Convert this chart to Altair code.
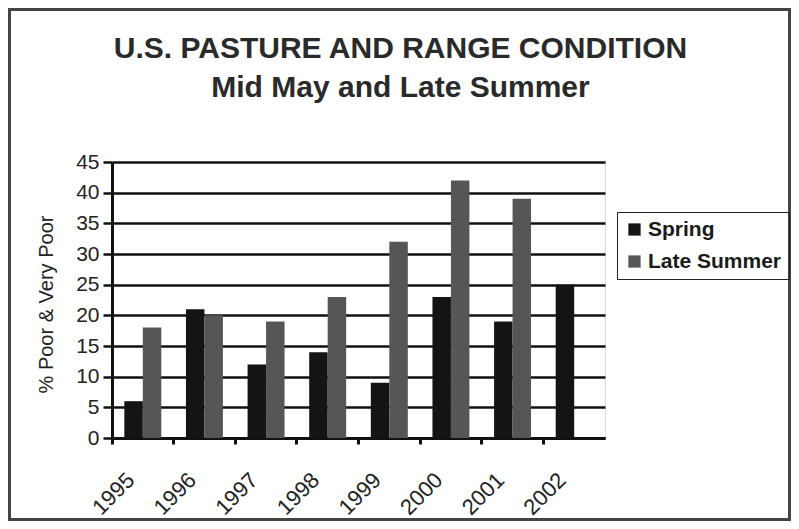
import altair as alt
import pandas as pd

years = ["1995", "1996", "1997", "1998", "1999", "2000", "2001", "2002"]
spring = [6, 21, 12, 14, 9, 23, 19, 25]
late_summer = [18, 20, 19, 23, 32, 42, 39, None]
series_names = ["Spring", "Late Summer"]
series_colors = ["#141414", "#565656"]
y_ticks = [0, 5, 10, 15, 20, 25, 30, 35, 40, 45]

rows = []
for yr, s, ls in zip(years, spring, late_summer):
    rows.append({"year": yr, "series": "Spring", "value": s})
    if ls is not None:
        rows.append({"year": yr, "series": "Late Summer", "value": ls})
df = pd.DataFrame(rows)

FONT = "Liberation Sans"
W, H = 493, 276
PAD_L, PAD_T = 104, 154
PAD_R = 783 - PAD_L - W
PAD_B = 513 - PAD_T - H

bars = alt.Chart(df).mark_bar().encode(
    x=alt.X("year:N", sort=years,
            scale=alt.Scale(paddingInner=0, paddingOuter=0),
            axis=alt.Axis(title=None, bandPosition=0, labelAngle=315,
                          labelOffset=-19, labelPadding=25, labelFontSize=22,
                          labelFont=FONT, labelColor="#222", tickSize=6,
                          tickWidth=3, tickColor="#111", domainWidth=3,
                          domainColor="#111", grid=False)),
    xOffset=alt.XOffset("series:N", sort=series_names,
                        scale=alt.Scale(domain=series_names, paddingOuter=0.667,
                                        paddingInner=0)),
    y=alt.Y("value:Q",
            scale=alt.Scale(domain=[0, 45], nice=False),
            axis=alt.Axis(title="% Poor & Very Poor", values=y_ticks,
                          labelFontSize=21, labelFont=FONT, labelColor="#222",
                          labelPadding=4, tickSize=9, tickWidth=2.5,
                          tickColor="#111", domainWidth=3, domainColor="#111",
                          grid=True, gridColor="#111", gridWidth=2.5,
                          titleFontSize=20, titleFont=FONT, titleColor="#222",
                          titleFontWeight="normal", titleX=-56, titleY=H / 2 + 4)),
    color=alt.Color("series:N", sort=series_names,
                    scale=alt.Scale(domain=series_names, range=series_colors),
                    legend=alt.Legend(title=None, orient="none", legendX=505,
                                      legendY=50, strokeColor="#222",
                                      padding=7, labelFontSize=21,
                                      labelFont=FONT, labelFontWeight="bold",
                                      labelColor="#1a1a1a", symbolType="square",
                                      symbolSize=150, symbolStrokeWidth=0,
                                      rowPadding=10, labelOffset=3)),
)

frame = alt.Chart(alt.Data(values=[{"k": 1}])).mark_rect(
    fill=None, stroke="#444", strokeWidth=3
).encode(
    x=alt.value(-PAD_L + 1.5), x2=alt.value(W + PAD_R - 1.5),
    y=alt.value(-PAD_T + 1.5), y2=alt.value(H + PAD_B - 1.5),
)

chart = alt.layer(bars, frame).properties(
    width=W, height=H,
    title=alt.TitleParams(
        text="U.S. PASTURE AND RANGE CONDITION",
        subtitle="Mid May and Late Summer",
        anchor="middle", dx=42, offset=0, dy=95,
        fontSize=30, font=FONT, fontWeight="bold", color="#2a2a2a",
        subtitleFontSize=30, subtitleFont=FONT, subtitleFontWeight="bold",
        subtitleColor="#2a2a2a", subtitlePadding=9,
    ),
    autosize=alt.AutoSizeParams(type="none"),
    padding={"left": PAD_L, "top": PAD_T, "right": PAD_R, "bottom": PAD_B},
).configure_view(stroke="#111", strokeWidth=3).configure(background="white")

chart.save("out.html", embed_options={"renderer": "svg", "actions": False})
